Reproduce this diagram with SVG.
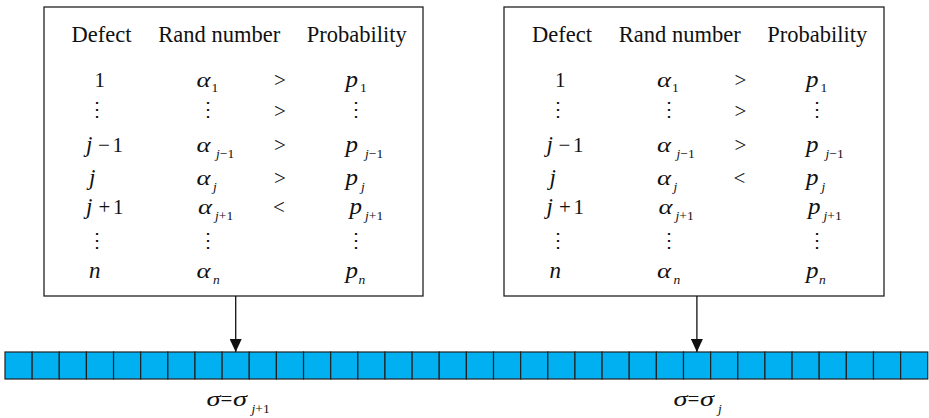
<svg xmlns="http://www.w3.org/2000/svg" width="929" height="418" viewBox="0 0 929 418">
<style>
.box{fill:#fff;stroke:#222;stroke-width:1.3}
.hdr{font-family:"Liberation Serif","Times New Roman",serif;font-size:22.5px;fill:#111}
.m{font-family:"Liberation Serif","Times New Roman",serif;font-size:21px;fill:#111}
.i{font-style:italic;font-size:23px}
.g{font-family:"Liberation Serif","Times New Roman",serif;font-size:22px;font-style:italic;fill:#111}
.pp{font-family:"Liberation Serif","Times New Roman",serif;font-size:23px;font-style:italic;fill:#111}
.s{font-family:"Liberation Serif","Times New Roman",serif;font-size:13.5px;fill:#111}
.si{font-style:italic}
.dots{font-family:"DejaVu Serif",serif;font-size:20px;fill:#111;text-anchor:middle}
.cell{fill:#00B0F0;stroke:#222;stroke-width:1.2}
.conn{stroke:#111;stroke-width:1.3;fill:none}
</style>
<defs>
<marker id="ah" viewBox="0 0 13 12" refX="13" refY="6" markerWidth="13" markerHeight="12" markerUnits="userSpaceOnUse" orient="auto">
<path d="M0,0 L13,6 L0,12 Z" fill="#111"/>
</marker>
</defs>

<g id="box-left">
<rect class="box" x="44" y="7" width="379" height="289"/>
<text class="hdr" x="71.5" y="42.3">Defect</text>
<text class="hdr" x="158.3" y="42.3">Rand number</text>
<text class="hdr" x="306.7" y="42.3">Probability</text>
<!-- row 1 -->
<text class="m" x="94.5" y="87">1</text>
<text class="g" x="196.5" y="87" textLength="14" lengthAdjust="spacingAndGlyphs">α</text><text class="s" x="211.5" y="92">1</text>
<text class="m" x="274" y="87">&gt;</text>
<text class="pp" x="345.5" y="87" textLength="12.5" lengthAdjust="spacingAndGlyphs">p</text><text class="s" x="360" y="92">1</text>
<!-- row 2 -->
<text class="dots" x="97" y="116">⋮</text>
<text class="dots" x="208" y="116">⋮</text>
<text class="m" x="274" y="118">&gt;</text>
<text class="dots" x="356" y="116">⋮</text>
<!-- row 3 -->
<text class="m" x="86" y="152"><tspan class="i">j</tspan><tspan x="98">−</tspan><tspan x="112.5">1</tspan></text>
<text class="g" x="196.5" y="152" textLength="14" lengthAdjust="spacingAndGlyphs">α</text><text class="s" x="216" y="158"><tspan class="si">j</tspan>−1</text>
<text class="m" x="274" y="152">&gt;</text>
<text class="pp" x="345.5" y="152" textLength="12.5" lengthAdjust="spacingAndGlyphs">p</text><text class="s" x="365" y="158"><tspan class="si">j</tspan>−1</text>
<!-- row 4 -->
<text class="m i" x="89" y="185">j</text>
<text class="g" x="196.5" y="185" textLength="14" lengthAdjust="spacingAndGlyphs">α</text><text class="s si" x="213" y="191">j</text>
<text class="m" x="274" y="185">&gt;</text>
<text class="pp" x="345.5" y="185" textLength="12.5" lengthAdjust="spacingAndGlyphs">p</text><text class="s si" x="361" y="191">j</text>
<!-- row 5 -->
<text class="m" x="86" y="214"><tspan class="i">j</tspan><tspan x="98.5">+</tspan><tspan x="113">1</tspan></text>
<text class="g" x="198" y="214" textLength="14" lengthAdjust="spacingAndGlyphs">α</text><text class="s" x="215" y="220"><tspan class="si">j</tspan>+1</text>
<text class="m" x="273" y="214">&lt;</text>
<text class="pp" x="349.5" y="214" textLength="12.5" lengthAdjust="spacingAndGlyphs">p</text><text class="s" x="365" y="220"><tspan class="si">j</tspan>+1</text>
<!-- row 6 -->
<text class="dots" x="97" y="247">⋮</text>
<text class="dots" x="208" y="247">⋮</text>
<text class="dots" x="356" y="247">⋮</text>
<!-- row 7 -->
<text class="m i" x="89" y="278">n</text>
<text class="g" x="196.5" y="278" textLength="14" lengthAdjust="spacingAndGlyphs">α</text><text class="s si" x="213" y="284">n</text>
<text class="pp" x="345.5" y="278" textLength="12.5" lengthAdjust="spacingAndGlyphs">p</text><text class="s si" x="358.5" y="284">n</text>
</g>

<g id="box-right">
<rect class="box" x="504" y="7" width="380" height="289"/>
<g transform="translate(460.5,0)">
<text class="hdr" x="71.5" y="42.3">Defect</text>
<text class="hdr" x="158.3" y="42.3">Rand number</text>
<text class="hdr" x="306.7" y="42.3">Probability</text>
<text class="m" x="94.5" y="87">1</text>
<text class="g" x="196.5" y="87" textLength="14" lengthAdjust="spacingAndGlyphs">α</text><text class="s" x="211.5" y="92">1</text>
<text class="m" x="274" y="87">&gt;</text>
<text class="pp" x="345.5" y="87" textLength="12.5" lengthAdjust="spacingAndGlyphs">p</text><text class="s" x="360" y="92">1</text>
<text class="dots" x="97" y="116">⋮</text>
<text class="dots" x="208" y="116">⋮</text>
<text class="m" x="274" y="118">&gt;</text>
<text class="dots" x="356" y="116">⋮</text>
<text class="m" x="86" y="152"><tspan class="i">j</tspan><tspan x="98">−</tspan><tspan x="112.5">1</tspan></text>
<text class="g" x="196.5" y="152" textLength="14" lengthAdjust="spacingAndGlyphs">α</text><text class="s" x="216" y="158"><tspan class="si">j</tspan>−1</text>
<text class="m" x="274" y="152">&gt;</text>
<text class="pp" x="345.5" y="152" textLength="12.5" lengthAdjust="spacingAndGlyphs">p</text><text class="s" x="365" y="158"><tspan class="si">j</tspan>−1</text>
<text class="m i" x="89" y="185">j</text>
<text class="g" x="196.5" y="185" textLength="14" lengthAdjust="spacingAndGlyphs">α</text><text class="s si" x="213" y="191">j</text>
<text class="m" x="273" y="185">&lt;</text>
<text class="pp" x="345.5" y="185" textLength="12.5" lengthAdjust="spacingAndGlyphs">p</text><text class="s si" x="361" y="191">j</text>
<text class="m" x="86" y="214"><tspan class="i">j</tspan><tspan x="98.5">+</tspan><tspan x="113">1</tspan></text>
<text class="g" x="198" y="214" textLength="14" lengthAdjust="spacingAndGlyphs">α</text><text class="s" x="215" y="220"><tspan class="si">j</tspan>+1</text>
<text class="pp" x="347.5" y="214" textLength="12.5" lengthAdjust="spacingAndGlyphs">p</text><text class="s" x="363" y="220"><tspan class="si">j</tspan>+1</text>
<text class="dots" x="97" y="247">⋮</text>
<text class="dots" x="208" y="247">⋮</text>
<text class="dots" x="356" y="247">⋮</text>
<text class="m i" x="89" y="278">n</text>
<text class="g" x="196.5" y="278" textLength="14" lengthAdjust="spacingAndGlyphs">α</text><text class="s si" x="213" y="284">n</text>
<text class="pp" x="345.5" y="278" textLength="12.5" lengthAdjust="spacingAndGlyphs">p</text><text class="s si" x="358.5" y="284">n</text>
</g>
</g>

<g id="array">
<rect class="cell" x="5" y="352" width="27.14" height="27"/>
<rect class="cell" x="32.14" y="352" width="27.14" height="27"/>
<rect class="cell" x="59.28" y="352" width="27.14" height="27"/>
<rect class="cell" x="86.42" y="352" width="27.14" height="27"/>
<rect class="cell" x="113.56" y="352" width="27.14" height="27"/>
<rect class="cell" x="140.7" y="352" width="27.14" height="27"/>
<rect class="cell" x="167.84" y="352" width="27.14" height="27"/>
<rect class="cell" x="194.98" y="352" width="27.14" height="27"/>
<rect class="cell" x="222.12" y="352" width="27.14" height="27"/>
<rect class="cell" x="249.26" y="352" width="27.14" height="27"/>
<rect class="cell" x="276.4" y="352" width="27.14" height="27"/>
<rect class="cell" x="303.54" y="352" width="27.14" height="27"/>
<rect class="cell" x="330.68" y="352" width="27.14" height="27"/>
<rect class="cell" x="357.82" y="352" width="27.14" height="27"/>
<rect class="cell" x="384.96" y="352" width="27.14" height="27"/>
<rect class="cell" x="412.1" y="352" width="27.14" height="27"/>
<rect class="cell" x="439.24" y="352" width="27.14" height="27"/>
<rect class="cell" x="466.38" y="352" width="27.14" height="27"/>
<rect class="cell" x="493.52" y="352" width="27.14" height="27"/>
<rect class="cell" x="520.66" y="352" width="27.14" height="27"/>
<rect class="cell" x="547.8" y="352" width="27.14" height="27"/>
<rect class="cell" x="574.94" y="352" width="27.14" height="27"/>
<rect class="cell" x="602.08" y="352" width="27.14" height="27"/>
<rect class="cell" x="629.22" y="352" width="27.14" height="27"/>
<rect class="cell" x="656.36" y="352" width="27.14" height="27"/>
<rect class="cell" x="683.5" y="352" width="27.14" height="27"/>
<rect class="cell" x="710.64" y="352" width="27.14" height="27"/>
<rect class="cell" x="737.78" y="352" width="27.14" height="27"/>
<rect class="cell" x="764.92" y="352" width="27.14" height="27"/>
<rect class="cell" x="792.06" y="352" width="27.14" height="27"/>
<rect class="cell" x="819.2" y="352" width="27.14" height="27"/>
<rect class="cell" x="846.34" y="352" width="27.14" height="27"/>
<rect class="cell" x="873.48" y="352" width="27.14" height="27"/>
<rect class="cell" x="900.62" y="352" width="27.14" height="27"/>
</g>

<g id="label-left">
<text class="g" x="206.5" y="406" textLength="14" lengthAdjust="spacingAndGlyphs">σ</text>
<text class="m" x="220.5" y="406">=</text>
<text class="g" x="233" y="406" textLength="14" lengthAdjust="spacingAndGlyphs">σ</text>
<text class="s" x="251.5" y="413"><tspan class="si">j</tspan>+1</text>
</g>
<g id="label-right">
<text class="g" x="673.5" y="406" textLength="14" lengthAdjust="spacingAndGlyphs">σ</text>
<text class="m" x="687.5" y="406">=</text>
<text class="g" x="700" y="406" textLength="14" lengthAdjust="spacingAndGlyphs">σ</text>
<text class="s si" x="718" y="413">j</text>
</g>

<g id="connectors">
<line class="conn" x1="235.7" y1="296" x2="235.7" y2="352" marker-end="url(#ah)"/>
<line class="conn" x1="696.9" y1="296" x2="696.9" y2="352" marker-end="url(#ah)"/>
</g>
</svg>
